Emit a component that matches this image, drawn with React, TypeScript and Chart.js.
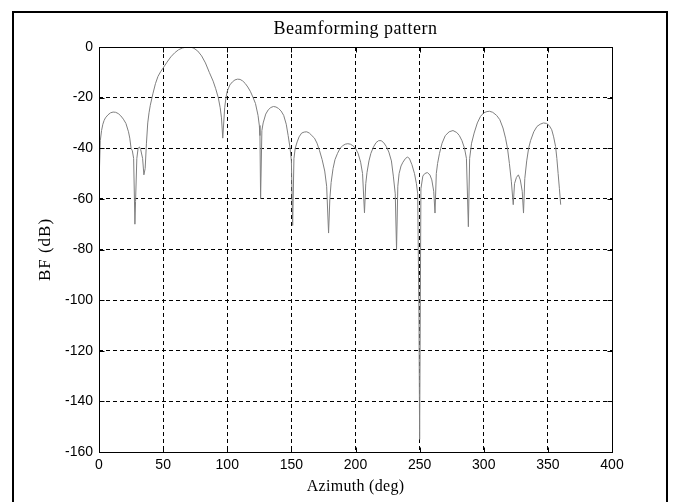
import React, { useEffect, useRef } from 'react';
import { Chart, registerables } from 'chart.js';

Chart.register(...registerables);

const TITLE = 'Beamforming pattern';
const X_LABEL = 'Azimuth (deg)';
const Y_LABEL = 'BF (dB)';

const xTickValues = [0, 50, 100, 150, 200, 250, 300, 350, 400];
const yTickValues = [0, -20, -40, -60, -80, -100, -120, -140, -160];

const azimuthDeg = [
  0, 1, 2, 3, 4, 5, 7, 9, 11, 13, 15, 17, 19, 21, 23, 24, 25, 26, 27, 28, 28.5, 29.5, 30.5, 31.5, 32.5, 34, 35, 36, 37,
  38, 39, 40, 42, 44, 46, 48, 50, 53, 56, 59, 62, 65, 68, 70, 72, 74, 77, 80, 83, 86, 89, 91, 93, 94.5, 95.5, 96.5,
  98, 99, 100, 102, 104, 106, 108, 110, 112, 114, 116, 118, 120, 122, 124, 125, 125.5, 126, 127, 128, 130, 132, 134,
  136, 138, 140, 142, 144, 146, 147.5, 149, 150, 151, 152, 153, 154.5, 156, 158, 160, 162, 164, 166, 168, 170, 172,
  174, 176, 177.5, 179, 180, 181, 182.5, 184, 186, 188, 190, 192, 194, 196, 198, 200, 202, 204, 205.5, 207, 208, 209,
  210.5, 212, 214, 216, 218, 220, 222, 224, 226, 228, 229.5, 231, 232, 233, 234, 235.5, 237, 239, 240.5, 242, 244,
  246, 247.5, 248.5, 249.5, 250, 251, 252.5, 254, 256, 258, 259.5, 261, 262, 263, 264, 265.5, 267.5, 270, 273, 276,
  279, 281, 283, 285, 286.5, 288, 289, 290.5, 292.5, 295, 297.5, 300, 302.5, 304.5, 307, 310, 312.5, 315, 317, 318.5,
  320, 321.5, 323, 324, 325.5, 327, 328.5, 330, 331, 332, 333.5, 335, 336.5, 339, 341.5, 344, 346.5, 349, 351, 353,
  354.5, 356, 357, 358, 359, 360,
];

const bfDb = [
  -54, -37, -33, -30.5, -29, -28, -26.8, -26, -25.7, -25.8, -26.3, -27.2, -28.5, -30.2, -33.5, -36, -40, -41, -44, -70,
  -61, -44, -40, -39.5, -40.5, -44, -50.5, -48, -38,
  -30, -26, -23, -18.5, -14.5, -11.6, -9.8, -8.3, -6, -3.9, -2.3, -1.1, -0.4, -0.05, 0, -0.1, -0.5, -1.6, -3.5, -6.3,
  -10, -13.5, -16.5, -20, -24, -28, -36,
  -24, -20, -17.5, -15, -13.8, -13, -12.7, -12.8, -13.4, -14.4, -15.8, -17.5, -19.8, -22.3, -27, -31, -35, -60, -33,
  -30, -26.5, -24.8, -23.9,
  -23.5, -23.7, -24.3, -25.3, -27, -30.5, -35, -40, -45, -70.5, -44, -40, -37.5, -35.5, -34, -33.6, -33.5, -34, -35,
  -36, -38, -41,
  -44.5, -49, -55, -73.5, -60, -53.5, -48, -44.5, -42, -40, -39, -38.4, -38.2, -38.4, -39, -40, -42, -45.5, -50, -65.5,
  -54, -49.5,
  -45, -42, -39.5, -37.8, -37, -37, -37.8, -39.3, -41.5, -45, -51, -58, -80, -55, -50, -47, -45.5, -44, -43.5, -44,
  -46.5,
  -50, -54, -58, -107, -155, -56, -51, -50, -49.6, -50.5, -52.5, -57, -65.6, -50, -46, -42, -38, -35, -33.5, -33,
  -33.8, -35, -37, -40, -44, -71, -44, -38, -34, -30, -27.4, -26, -25.5, -25.4, -25.8, -27, -28.7, -32, -36, -40,
  -46, -53, -62.3, -54, -51.5, -50.5, -52.5, -57, -65.6, -52, -45, -40, -37, -33.5, -31.4, -30.5, -30, -30.2, -31,
  -32.7,
  -35.5, -39.3, -44, -50, -56, -62.3,
];

const decorPlugin = {
  id: 'matlabDecor',
  afterDraw(chart: any) {
    const { ctx, chartArea: a } = chart;
    const xs = chart.scales.x;
    const ys = chart.scales.y;
    ctx.save();
    ctx.strokeStyle = '#000';
    ctx.lineWidth = 1;
    const L = Math.round(a.left) + 0.5;
    const R = Math.round(a.right) + 0.5;
    const T = Math.round(a.top) + 0.5;
    const B = Math.round(a.bottom) + 0.5;
    ctx.strokeRect(L, T, R - L, B - T);
    const tl = 5;
    ctx.beginPath();
    xTickValues.forEach((v) => {
      const px = Math.round(xs.getPixelForValue(v)) + 0.5;
      ctx.moveTo(px, B);
      ctx.lineTo(px, B - tl);
      ctx.moveTo(px, T);
      ctx.lineTo(px, T + tl);
    });
    yTickValues.forEach((v) => {
      const py = Math.round(ys.getPixelForValue(v)) + 0.5;
      ctx.moveTo(L, py);
      ctx.lineTo(L + tl, py);
      ctx.moveTo(R, py);
      ctx.lineTo(R - tl, py);
    });
    ctx.stroke();

    ctx.lineWidth = 2;
    ctx.strokeRect(13, 12, 654, 492);

    ctx.fillStyle = '#000';
    ctx.textAlign = 'center';
    ctx.textBaseline = 'middle';
    const cx = (a.left + a.right) / 2;
    ctx.font = '18px "Liberation Serif"';
    (ctx as any).letterSpacing = '0.5px';
    ctx.fillText(TITLE, cx, 29);
    ctx.font = '16px "Liberation Serif"';
    (ctx as any).letterSpacing = '0.3px';
    ctx.fillText(X_LABEL, cx, 487);
    ctx.font = '17px "Liberation Serif"';
    (ctx as any).letterSpacing = '1px';
    ctx.translate(46, (a.top + a.bottom) / 2);
    ctx.rotate(-Math.PI / 2);
    ctx.fillText(Y_LABEL, 0, 0);
    ctx.restore();
  },
};

export default function App() {
  const ref = useRef<HTMLCanvasElement | null>(null);

  useEffect(() => {
    document.body.style.margin = '0';
    const canvas = ref.current;
    if (!canvas) return;
    const tickFont = { family: '"Liberation Sans", Arial, sans-serif', size: 14 };
    const chart = new Chart(canvas, {
      type: 'line',
      data: {
        datasets: [
          {
            data: azimuthDeg.map((x, i) => ({ x, y: bfDb[i] })),
            borderColor: '#7f7f7f',
            borderWidth: 1,
            pointRadius: 0,
            tension: 0,
            fill: false,
          },
        ],
      },
      options: {
        responsive: false,
        animation: false,
        events: [],
        layout: { padding: { left: 0, right: 66, top: 47, bottom: 0 } },
        plugins: { legend: { display: false }, tooltip: { enabled: false }, title: { display: false } },
        scales: {
          x: {
            type: 'linear',
            min: 0,
            max: 400,
            afterBuildTicks: (s: any) => {
              s.ticks = xTickValues.map((v) => ({ value: v }));
            },
            afterFit: (s: any) => {
              s.height = 50;
            },
            ticks: { color: '#000', font: tickFont, padding: 5, maxRotation: 0, autoSkip: false },
            grid: { color: '#000', lineWidth: 1, drawTicks: false },
            border: { display: false, dash: [4, 3] },
          },
          y: {
            type: 'linear',
            min: -160,
            max: 0,
            afterBuildTicks: (s: any) => {
              s.ticks = yTickValues.map((v) => ({ value: v }));
            },
            afterFit: (s: any) => {
              s.width = 99;
            },
            ticks: { color: '#000', font: tickFont, padding: 6, autoSkip: false },
            grid: { color: '#000', lineWidth: 1, drawTicks: false },
            border: { display: false, dash: [4, 3] },
          },
        },
      },
      plugins: [decorPlugin],
    });
    return () => chart.destroy();
  }, []);

  return <canvas ref={ref} width={678} height={502} style={{ display: 'block' }} />;
}
